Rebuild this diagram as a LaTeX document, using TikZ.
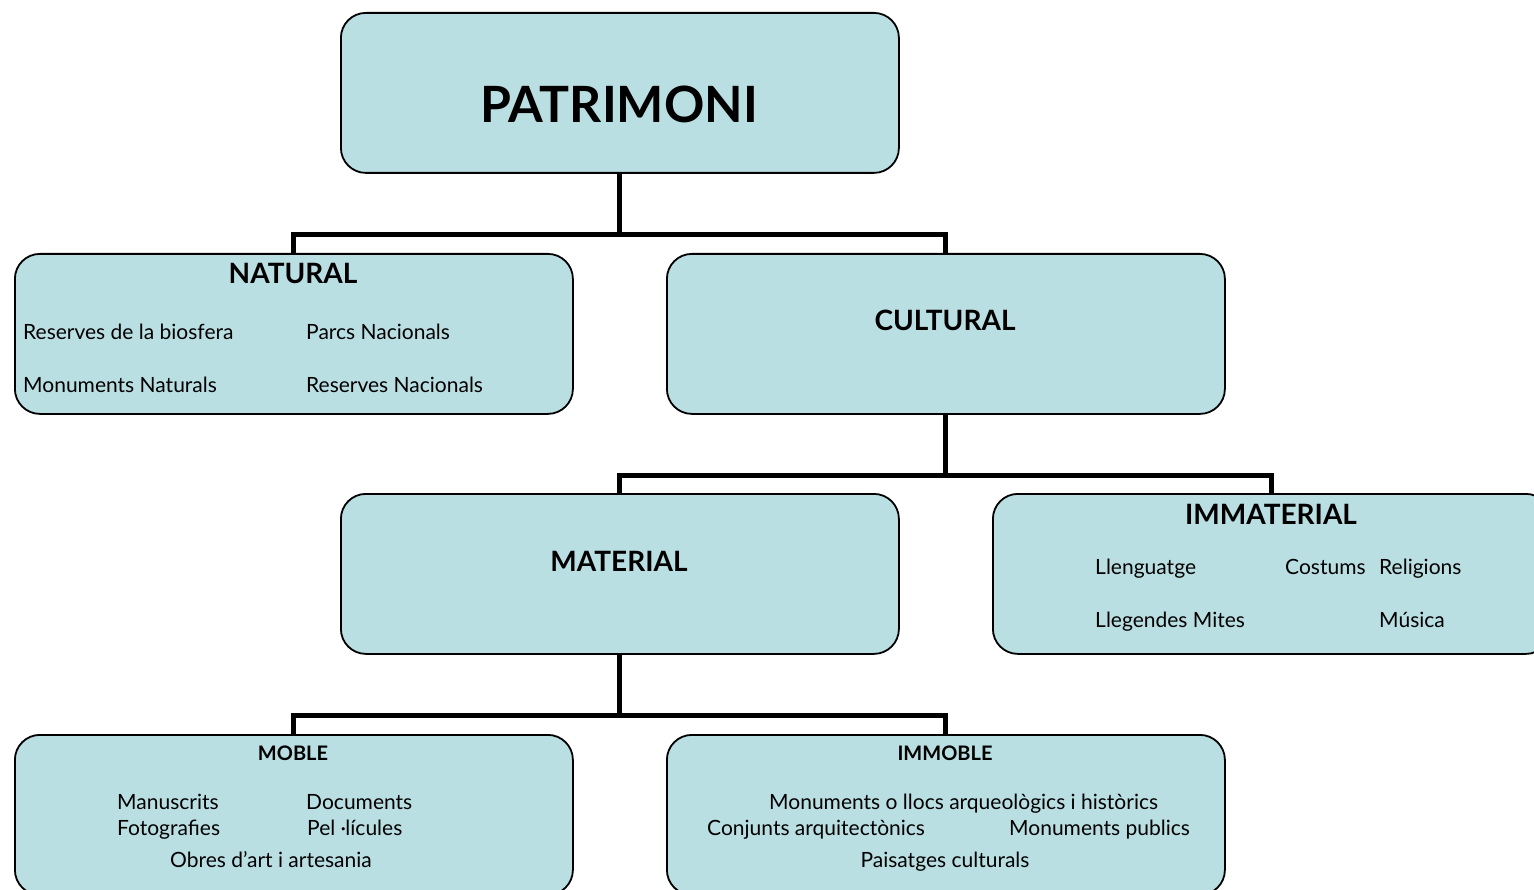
\documentclass[tikz,border=0pt]{standalone}
\usepackage{fontspec}
\setmainfont{Lato}
\definecolor{boxfill}{HTML}{BADFE3}
\tikzset{
  box/.style={draw=black, line width=1.8pt, fill=boxfill, rounded corners=25pt,
    minimum width=558pt, minimum height=160pt, anchor=north west, inner sep=0pt},
  conn/.style={draw=black, line width=5pt},
  head/.style={font=\fontsize{28}{32}\selectfont\bfseries, anchor=center, inner sep=0pt},
  small head/.style={font=\fontsize{20}{24}\selectfont\bfseries, anchor=center, inner sep=0pt},
  item/.style={font=\fontsize{21}{25}\selectfont, anchor=base west, inner sep=0pt},
  citem/.style={font=\fontsize{21}{25}\selectfont, anchor=base, inner sep=0pt},
}
\begin{document}
\begin{tikzpicture}[x=1pt,y=-1pt]
\useasboundingbox (0,0) rectangle (1534,890);
\clip (0,0) rectangle (1534,890);
% boxes
\node[box] (pat) at (340,12) {};
\node[box] (nat) at (14,253) {};
\node[box] (cul) at (666,253) {};
\node[box] (mat) at (340,493) {};
\node[box] (imm) at (992,493) {};
\node[box] (mob) at (14,734) {};
\node[box] (imb) at (666,734) {};
% connectors
\draw[conn] (pat.south) -- ++(0,61) coordinate (j1);
\draw[conn] (nat.north) |- (j1) -| (cul.north);
\draw[conn] (cul.south) -- ++(0,61) coordinate (j2);
\draw[conn] (mat.north) |- (j2) -| (imm.north);
\draw[conn] (mat.south) -- ++(0,61) coordinate (j3);
\draw[conn] (mob.north) |- (j3) -| (imb.north);
% titles
\node[font=\fontsize{50}{58}\selectfont\bfseries, inner sep=0pt] (tpat) at (619,104) {PATRIMONI};
\node[head] (tnat) at (293,273) {NATURAL};
\node[head] (tcul) at (945,320) {CULTURAL};
\node[head] (tmat) at (619,561) {MATERIAL};
\node[head] (timm) at (1271,514) {IMMATERIAL};
\node[small head] (tmob) at (293,753) {MOBLE};
\node[small head] (timb) at (945,753) {IMMOBLE};
% natural items
\node[item] (n1) at (23,340) {Reserves de la biosfera};
\node[item] (n2) at (306,340) {Parcs Nacionals};
\node[item] (n3) at (23,392) {Monuments Naturals};
\node[item] (n4) at (306,392) {Reserves Nacionals};
% immaterial items
\node[item] (i1) at (1095,574) {Llenguatge};
\node[item] (i2) at (1285,574) {Costums};
\node[item] (i3) at (1379,574) {Religions};
\node[item] (i4) at (1095,627) {Llegendes Mites};
\node[item] (i5) at (1379,627) {Música};
% moble items
\node[item] (m1) at (117,809) {Manuscrits};
\node[item] (m2) at (306,809) {Documents};
\node[item] (m3) at (117,835) {Fotografies};
\node[item] (m4) at (307,835) {Pel ·lícules};
\node[citem] (m5) at (271,867) {Obres d’art i artesania};
% immoble items
\node[item] (b1) at (769,809) {Monuments o llocs arqueològics i històrics};
\node[item] (b2) at (707,835) {Conjunts arquitectònics};
\node[item] (b3) at (1009,835) {Monuments publics};
\node[citem] (b4) at (945,867) {Paisatges culturals};
\end{tikzpicture}
\end{document}
